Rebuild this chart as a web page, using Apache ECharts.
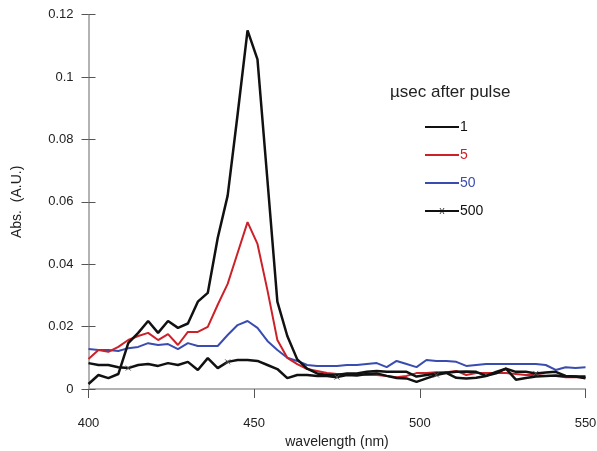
<!DOCTYPE html>
<html><head><meta charset="utf-8">
<script src="https://cdn.jsdelivr.net/npm/echarts@6/dist/echarts.min.js"></script>
<style>html,body{margin:0;padding:0;background:#fff}#c{width:597px;height:451px}</style>
</head><body><div id="c"></div>
<script>
// wavelength grid (nm)
const wavelengths = [400,403,406,409,412,415,418,421,424,427,430,433,436,439,442,445,448,451,454,457,460,463,466,469,472,475,478,481,484,487,490,493,496,499,502,505,508,511,514,517,520,523,526,529,532,535,538,541,544,547,550];
const seriesNames = ['1','5','50','500'];
const s1 = [0.0016,0.0045,0.0035,0.0048,0.0147,0.018,0.0218,0.018,0.0218,0.0196,0.021,0.028,0.0308,0.0484,0.062,0.088,0.115,0.1057,0.067,0.028,0.017,0.0095,0.0065,0.005,
  0.0045,0.0045,0.005,0.005,0.0055,0.0058,0.0055,0.0055,0.0055,0.004,0.0045,0.005,0.0052,0.0036,0.0034,0.0036,0.0042,0.0055,0.0065,0.003,0.0035,0.004,0.0042,0.0043,0.0041,0.004,0.004];
const s5 = [0.0096,0.0125,0.0119,0.0135,0.0157,0.017,0.018,0.0157,0.0176,0.0141,0.0183,0.0183,0.0199,0.027,0.0337,0.0436,0.0535,0.0465,0.0317,0.0157,0.01,0.008,0.0064,0.0058,
  0.0051,0.0048,0.0048,0.0048,0.0045,0.0045,0.0042,0.0038,0.0042,0.0051,0.0051,0.0054,0.0054,0.0058,0.0045,0.0051,0.0051,0.0051,0.0051,0.0048,0.0045,0.0045,0.0042,0.0042,0.0038,0.0038,0.0038];
const s50 = [0.0128,0.0125,0.0125,0.0122,0.0131,0.0135,0.0147,0.0141,0.0144,0.0128,0.0147,0.0138,0.0138,0.0138,0.0173,0.0205,0.0218,0.0196,0.0154,0.0125,0.01,0.009,0.0077,0.0074,
  0.0074,0.0074,0.0077,0.0077,0.008,0.0083,0.007,0.009,0.008,0.007,0.0093,0.009,0.009,0.0087,0.0074,0.0077,0.008,0.008,0.008,0.008,0.008,0.008,0.0077,0.0061,0.007,0.0067,0.007];
const s500 = [0.0083,0.0077,0.0077,0.007,0.0067,0.0077,0.008,0.0074,0.0083,0.0077,0.0087,0.0061,0.0099,0.0067,0.0087,0.0093,0.0093,0.009,0.0077,0.0064,0.0035,0.0045,0.0045,0.0042,
  0.0042,0.0038,0.0045,0.0043,0.0048,0.005,0.0042,0.0035,0.0034,0.0023,0.0034,0.0045,0.0052,0.0055,0.0056,0.0055,0.0042,0.005,0.0065,0.0055,0.0055,0.005,0.0053,0.0055,0.0042,0.004,0.0034];
const markerIdx500 = [4,14,25,35,45];
const yTicks = [0,0.02,0.04,0.06,0.08,0.1,0.12];

const pair = arr => wavelengths.map((w,i)=>[w,arr[i]]);
const xPath = 'path://M0,0L10,10M10,0L0,10';
const font = 'Liberation Sans, Arial, sans-serif';
const colors = ['#111111','#cc2128','#3a4cb0','#111111'];
const bbox = 'M0,0L0.01,0L0.01,0.01ZM34,14L33.99,14L33.99,13.99Z';
const lineIcon = 'path://' + bbox + 'M0,6.1L34,6.1L34,7.9L0,7.9Z';
const line500Icon = 'path://' + bbox + 'M0,5.9L34,5.9L34,8.1L0,8.1ZM14.5,4L15.3,4L19.5,10L18.7,10ZM18.7,4L19.5,4L15.3,10L14.5,10Z';

const chart = echarts.init(document.getElementById('c'));
chart.setOption({
  animation:false,
  grid:{left:88.5,right:11.5,top:14.7,bottom:62,outerBoundsMode:'none',containLabel:false},
  title:{text:'µsec after pulse',left:385,top:79,textStyle:{fontFamily:font,fontSize:17,fontWeight:'normal',color:'#222'}},
  legend:{orient:'vertical',left:420,top:115,itemWidth:34,itemHeight:14,itemGap:14,
    textStyle:{fontFamily:font,fontSize:14,padding:[0,0,0,-4]},
    data:seriesNames.map((n,i)=>({name:n,icon: i===3? line500Icon : lineIcon,itemStyle:{color:colors[i],borderWidth:0},textStyle:{color:i===3?'#111':colors[i]}}))},
  xAxis:{type:'value',min:400,max:550,interval:50,
    name:'wavelength (nm)',nameLocation:'middle',nameGap:43,
    nameTextStyle:{fontFamily:font,fontSize:14,color:'#222'},
    axisLine:{lineStyle:{color:'#9a9a9a',width:1.5}},
    axisTick:{show:true,length:9,lineStyle:{color:'#555',width:1}},
    axisLabel:{fontFamily:font,fontSize:13,color:'#222',margin:28},
    splitLine:{show:false}},
  yAxis:[{type:'value',min:0,max:0.12,interval:0.02,
    name:'Abs.  (A.U.)',nameLocation:'middle',nameGap:64,nameRotate:90,
    nameTextStyle:{fontFamily:font,fontSize:14,color:'#222'},
    axisLine:{show:true,lineStyle:{color:'#9a9a9a',width:1.5}},
    axisTick:{show:true,length:7,lineStyle:{color:'#555',width:1}},
    axisLabel:{fontFamily:font,fontSize:13,color:'#222',margin:15,formatter:v=>String(+v.toFixed(2))},
    splitLine:{show:false}},
   {type:'value',min:0,max:0.12,interval:0.02,position:'left',
    axisLine:{show:false},axisTick:{show:true,inside:true,length:7,lineStyle:{color:'#555',width:1}},
    axisLabel:{show:false},splitLine:{show:false}}],
  series:[
    {name:'1',type:'line',data:pair(s1),showSymbol:false,symbol:'none',lineStyle:{color:colors[0],width:2.5},itemStyle:{color:colors[0]},z:5},
    {name:'5',type:'line',data:pair(s5),showSymbol:false,symbol:'none',lineStyle:{color:colors[1],width:2},itemStyle:{color:colors[1]},z:4},
    {name:'50',type:'line',data:pair(s50),showSymbol:false,symbol:'none',lineStyle:{color:colors[2],width:2},itemStyle:{color:colors[2]},z:3},
    {name:'500',type:'line',data:pair(s500),symbol:xPath,showSymbol:true,
      symbolSize:(v,p)=> markerIdx500.includes(p.dataIndex)?5:0,
      lineStyle:{color:colors[3],width:2.5},itemStyle:{color:'#111',borderColor:'#555',borderWidth:1},z:6}
  ]
});
</script></body></html>
